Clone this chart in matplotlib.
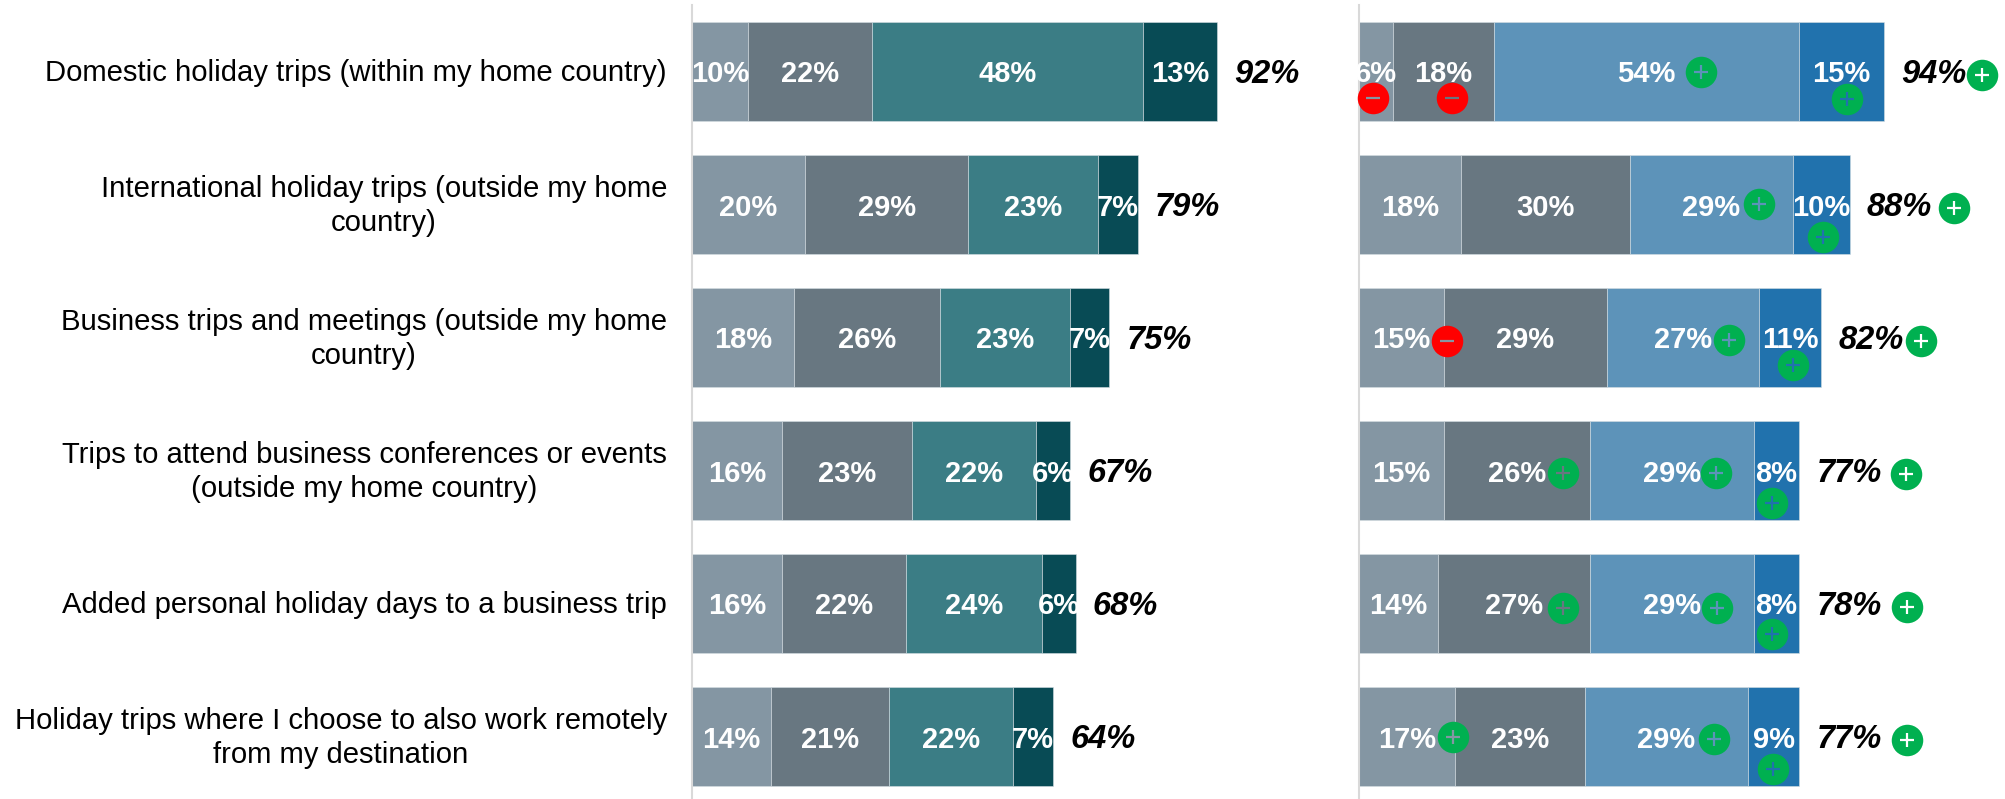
import matplotlib
matplotlib.use('Agg')
import matplotlib.pyplot as plt
import numpy as np

plt.rcParams['font.family'] = ['Liberation Sans', 'DejaVu Sans']

activities = [
    'Domestic holiday trips (within my home country)',
    'International holiday trips (outside my home\ncountry)',
    'Business trips and meetings (outside my home\ncountry)',
    'Trips to attend business conferences or events\n(outside my home country)',
    'Added personal holiday days to a business trip',
    'Holiday trips where I choose to also work remotely\nfrom my destination',
]

# Left block, stacked shares per activity
left_a = [10, 20, 18, 16, 16, 14]
left_b = [22, 29, 26, 23, 22, 21]
left_c = [48, 23, 23, 22, 24, 22]
left_d = [13, 7, 7, 6, 6, 7]
left_total = [92, 79, 75, 67, 68, 64]

# Right block
right_a = [6, 18, 15, 15, 14, 17]
right_b = [18, 30, 29, 26, 27, 23]
right_c = [54, 29, 27, 29, 29, 29]
right_d = [15, 10, 11, 8, 8, 9]
right_total = [94, 88, 82, 77, 78, 77]

left_colors = ['#8496A3', '#687781', '#3B7D85', '#084B55']
right_colors = ['#8496A3', '#687781', '#5D93B9', '#2172AD']

# Significance badges: row, segment, sign, pixel offset from the segment label
seg_badges = [
    (0, 0, '-', -3, 26), (0, 1, '-', 8, 26), (0, 2, '+', 54, 0), (0, 3, '+', 6, 27),
    (1, 2, '+', 48, -1), (1, 3, '+', 2, 32),
    (2, 0, '-', 46, 3), (2, 2, '+', 46, 2), (2, 3, '+', 3, 27),
    (3, 1, '+', 46, 2), (3, 2, '+', 44, 2), (3, 3, '+', -4, 32),
    (4, 1, '+', 49, 4), (4, 2, '+', 45, 4), (4, 3, '+', -4, 30),
    (5, 0, '+', 46, 0), (5, 2, '+', 48, 2), (5, 3, '+', -1, 32),
]
# Row totals: pixel distance from the end of the bar to the badge
total_badge_dx = [98, 104, 100, 107, 108, 108]

W, H = 2006, 799
PX_PER_PCT = 5.64
ROW_PX = 133.0
GREEN = '#00B050'
RED = '#FF0000'

fig = plt.figure(figsize=(W / 100, H / 100), dpi=100)


def make_axes(x0, x1):
    ax = fig.add_axes([x0 / W, 0, (x1 - x0) / W, (H - 5) / H])
    ax.set_xlim(0, (x1 - x0) / PX_PER_PCT)
    ax.set_ylim((H - 71.5) / ROW_PX, (5 - 71.5) / ROW_PX)
    for s in ['top', 'right', 'bottom']:
        ax.spines[s].set_visible(False)
    ax.spines['left'].set_color('#D9D9D9')
    ax.spines['left'].set_linewidth(1.5)
    ax.set_xticks([])
    ax.set_yticks([])
    ax.patch.set_alpha(0)
    return ax


def draw_stack(ax, segments, totals, colors):
    y = np.arange(len(activities))
    segments = np.array(segments, dtype=float)
    starts = np.vstack([np.zeros(len(y)), np.cumsum(segments, axis=0)[:-1]])
    for vals, st, col in zip(segments, starts, colors):
        ax.barh(y, vals, left=st, height=0.745, color=col, edgecolor='#D5DEE3', linewidth=0.4)
        for yi, v, s in zip(y, vals, st):
            ax.text(s + v / 2, yi + 3 / ROW_PX, f'{v:.0f}%', color='white', fontsize=21,
                    fontweight='bold', ha='center', va='center', clip_on=False)
    ends = segments.sum(axis=0)
    for yi, e, t in zip(y, ends, totals):
        ax.annotate(f'{t}%', (e, yi), xytext=(12.5, -2.5), textcoords='offset points',
                    fontsize=23.5, fontweight='bold', fontstyle='italic', color='black',
                    ha='left', va='center')
    return starts, ends


def badge(ax, x, y, sign, bg):
    color = GREEN if sign == '+' else RED
    ax.scatter(x, y, s=515, color=color, linewidths=0, zorder=5, clip_on=False)
    ax.scatter(x, y, s=110, marker='+' if sign == '+' else '_', color=bg,
               linewidths=1.6, zorder=6, clip_on=False)


ax_l = make_axes(692, 1330)
draw_stack(ax_l, [left_a, left_b, left_c, left_d], left_total, left_colors)
# row names, right-aligned against the axis with centred lines
for row, name in enumerate(activities):
    ax_l.annotate(name, (0, row), xycoords=('axes fraction', 'data'), xytext=(-18, -1.2),
                  textcoords='offset points', fontsize=21.1, ha='right', va='center',
                  ma='center', linespacing=1.3)

ax_r = make_axes(1359, 2006)
segs_r = [right_a, right_b, right_c, right_d]
starts_r, ends_r = draw_stack(ax_r, segs_r, right_total, right_colors)

for row, seg, sign, dx, dy in seg_badges:
    center = starts_r[seg][row] + segs_r[seg][row] / 2
    badge(ax_r, center + dx / PX_PER_PCT, row + dy / ROW_PX, sign, right_colors[seg])

for row, dx in enumerate(total_badge_dx):
    badge(ax_r, ends_r[row] + dx / PX_PER_PCT, row + 3 / ROW_PX, '+', 'white')

fig.savefig('out.png', dpi=100, facecolor='white')
